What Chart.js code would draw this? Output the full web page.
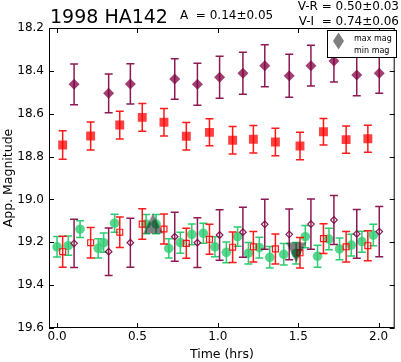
<!DOCTYPE html>
<html>
<head>
<meta charset="utf-8">
<script src="https://cdn.jsdelivr.net/npm/chart.js@4.4.0/dist/chart.umd.min.js"></script>
<style>
    html, body { margin: 0; padding: 0; background: #fff; }
</style>
</head>
<body>
<canvas id="lightCurve" width="401" height="362"></canvas>
<script>
// ----------- data ----------------------------------- //

// V band (green circles)
const timeV = [0.000, 0.070, 0.143, 0.256, 0.290, 0.358, 0.554, 0.616, 0.695, 0.767, 0.838, 0.910, 0.982, 1.053,
               1.123, 1.190, 1.258, 1.323, 1.410, 1.487, 1.544, 1.620, 1.691, 1.757, 1.830, 1.896, 1.967];
const magV = [19.221, 19.216, 19.139, 19.228, 19.202, 19.111, 19.115, 19.115, 19.228, 19.202, 19.163, 19.158, 19.221, 19.247,
              19.174, 19.251, 19.225, 19.270, 19.256, 19.251, 19.174, 19.265, 19.185, 19.231, 19.213, 19.197, 19.166];
const errV = [0.048, 0.045, 0.039, 0.045, 0.045, 0.042, 0.045, 0.045, 0.045, 0.049, 0.048, 0.047, 0.047, 0.048,
              0.045, 0.050, 0.048, 0.050, 0.050, 0.050, 0.052, 0.051, 0.050, 0.051, 0.051, 0.049, 0.050];

// R band (red squares) and R shifted by the colour (open squares)
const timeR = [0.035, 0.209, 0.390, 0.530, 0.665, 0.804, 0.948, 1.092, 1.221, 1.358, 1.511, 1.657, 1.798, 1.933];
const magR = [18.746, 18.704, 18.653, 18.617, 18.640, 18.705, 18.687, 18.724, 18.719, 18.732, 18.751, 18.684, 18.721, 18.717];
const errR = [0.066, 0.065, 0.065, 0.065, 0.064, 0.064, 0.063, 0.064, 0.064, 0.064, 0.064, 0.062, 0.064, 0.063];
const magRshift = [19.244, 19.202, 19.153, 19.115, 19.138, 19.205, 19.186, 19.223, 19.221, 19.231, 19.249, 19.183, 19.221, 19.216];
const errRshift = [0.072, 0.071, 0.071, 0.071, 0.070, 0.070, 0.070, 0.071, 0.071, 0.070, 0.071, 0.069, 0.071, 0.070];

// I band (purple diamonds) and I shifted by the colour (open diamonds)
const timeI = [0.106, 0.321, 0.456, 0.732, 0.873, 1.011, 1.156, 1.292, 1.444, 1.579, 1.722, 1.864, 2.004];
const magI = [18.463, 18.505, 18.461, 18.438, 18.463, 18.430, 18.411, 18.376, 18.423, 18.376, 18.354, 18.419, 18.411];
const errI = [0.095, 0.090, 0.094, 0.095, 0.098, 0.098, 0.098, 0.098, 0.100, 0.095, 0.098, 0.097, 0.094];
const magIshift = [19.205, 19.244, 19.202, 19.174, 19.202, 19.166, 19.153, 19.116, 19.163, 19.115, 19.096, 19.161, 19.150];
const errIshift = [0.113, 0.111, 0.114, 0.114, 0.116, 0.118, 0.117, 0.117, 0.118, 0.117, 0.114, 0.114, 0.117];

// max / min of the light curve
const maxTime = [0.597];
const maxMag = [19.112];
const minTime = [1.487];
const minMag = [19.248];

const xTicks = [0.0, 0.5, 1.0, 1.5, 2.0];
const yTicks = [18.2, 18.4, 18.6, 18.8, 19.0, 19.2, 19.4, 19.6];

const FONT = "'DejaVu Sans', sans-serif";

const toPoints = (xs, ys) => xs.map((x, i) => ({x: x, y: ys[i]}));

// triangle markers, matplotlib style (bbox centred on the point)
const makeTriangle = (up) => {
    const c = document.createElement('canvas');
    c.width = 21;
    c.height = 21;
    const g = c.getContext('2d');
    g.fillStyle = 'rgba(0,0,0,0.5)';
    g.beginPath();
    if (up) {
        g.moveTo(10.5, 0.5); g.lineTo(20.5, 20.5); g.lineTo(0.5, 20.5);
    } else {
        g.moveTo(0.5, 0.5); g.lineTo(20.5, 0.5); g.lineTo(10.5, 20.5);
    }
    g.closePath();
    g.fill();
    return c;
};

// ----------- error bars, drawn under each dataset ----------------- //
const errorBars = {
    id: 'errorBars',
    beforeDatasetDraw(chart, args) {
        const ds = chart.data.datasets[args.index];
        if (!ds.errors) return;
        const ctx = chart.ctx;
        const x = chart.scales.x, y = chart.scales.y;
        ctx.save();
        ctx.strokeStyle = ds.barColor;
        ctx.lineWidth = 1.5;
        ds.data.forEach((p, i) => {
            const px = x.getPixelForValue(p.x);
            const top = y.getPixelForValue(p.y - ds.errors[i]);
            const bot = y.getPixelForValue(p.y + ds.errors[i]);
            ctx.beginPath();
            ctx.moveTo(px, top); ctx.lineTo(px, bot);
            ctx.moveTo(px - 4, top); ctx.lineTo(px + 4, top);
            ctx.moveTo(px - 4, bot); ctx.lineTo(px + 4, bot);
            ctx.stroke();
        });
        ctx.restore();
    }
};

// ----------- frame, inward ticks, titles, legend ----------------- //
const decorations = {
    id: 'decorations',
    afterDraw(chart) {
        const ctx = chart.ctx;
        const a = chart.chartArea;
        const x = chart.scales.x, y = chart.scales.y;
        ctx.save();
        ctx.strokeStyle = '#000';
        ctx.lineWidth = 1;
        ctx.strokeRect(a.left + 0.5, a.top + 0.5, a.right - a.left - 1, a.bottom - a.top - 1);

        ctx.beginPath();
        xTicks.forEach(v => {
            const px = Math.round(x.getPixelForValue(v)) + 0.5;
            ctx.moveTo(px, a.bottom); ctx.lineTo(px, a.bottom - 5);
            ctx.moveTo(px, a.top); ctx.lineTo(px, a.top + 5);
        });
        yTicks.forEach(v => {
            const py = Math.round(y.getPixelForValue(v)) + 0.5;
            ctx.moveTo(a.left, py); ctx.lineTo(a.left + 5, py);
            ctx.moveTo(a.right, py); ctx.lineTo(a.right - 5, py);
        });
        ctx.stroke();

        ctx.fillStyle = '#000';
        ctx.textBaseline = 'alphabetic';

        ctx.font = '19px ' + FONT;
        ctx.textAlign = 'left';
        ctx.fillText('1998 HA142', 50, 23);

        ctx.font = '12px ' + FONT;
        ctx.fillText('A  = 0.14\u00b10.05', 180, 18.5);
        ctx.textAlign = 'right';
        ctx.fillText('V-R = 0.50\u00b10.03', 399, 10);
        ctx.fillText('V-I  = 0.74\u00b10.06', 399, 24.5);

        // axis titles
        ctx.textAlign = 'center';
        ctx.font = '12.5px ' + FONT;
        ctx.fillText('Time (hrs)', (a.left + a.right) / 2, 358);
        ctx.save();
        ctx.translate(12, (a.top + a.bottom) / 2);
        ctx.rotate(-Math.PI / 2);
        ctx.fillText('App. Magnitude', 0, 0);
        ctx.restore();

        // legend
        ctx.fillStyle = '#fff';
        ctx.fillRect(327.5, 30.5, 69, 27);
        ctx.strokeRect(327.5, 30.5, 69, 27);
        ctx.fillStyle = 'rgba(0,0,0,0.5)';
        ctx.beginPath();
        ctx.moveTo(338.5, 32.5); ctx.lineTo(344, 41); ctx.lineTo(333, 41);
        ctx.closePath();
        ctx.fill();
        ctx.beginPath();
        ctx.moveTo(333, 41); ctx.lineTo(344, 41); ctx.lineTo(338.5, 49.5);
        ctx.closePath();
        ctx.fill();
        ctx.fillStyle = '#000';
        ctx.textAlign = 'left';
        ctx.font = '8px ' + FONT;
        ctx.fillText('max mag', 354, 41);
        ctx.fillText('min mag', 354, 52.5);
        ctx.restore();
    }
};

// ----------- Light curve ----------------- //
const purple = 'rgba(128,0,64,';
const red = 'rgba(255,0,0,';
const green = 'rgba(46,204,113,';

new Chart(document.getElementById('lightCurve'), {
    type: 'scatter',
    data: {
        datasets: [
            {
                data: toPoints(maxTime, maxMag),
                pointStyle: makeTriangle(true),
            },
            {
                data: toPoints(minTime, minMag),
                pointStyle: makeTriangle(false),
            },
            {
                data: toPoints(timeI, magI),
                errors: errI,
                barColor: purple + '0.9)',
                pointStyle: 'rectRot',
                pointRadius: 5.5,
                backgroundColor: purple + '0.75)',
                borderWidth: 0,
            },
            {
                data: toPoints(timeR, magR),
                errors: errR,
                barColor: red + '0.9)',
                pointStyle: 'rect',
                pointRadius: 6.3,
                backgroundColor: red + '0.75)',
                borderWidth: 0,
            },
            {
                data: toPoints(timeI, magIshift),
                errors: errIshift,
                barColor: purple + '0.9)',
                pointStyle: 'rectRot',
                pointRadius: 3.3,
                backgroundColor: 'rgba(0,0,0,0)',
                borderColor: purple + '0.9)',
                borderWidth: 1.2,
            },
            {
                data: toPoints(timeR, magRshift),
                errors: errRshift,
                barColor: red + '0.9)',
                pointStyle: 'rect',
                pointRadius: 4.2,
                backgroundColor: 'rgba(0,0,0,0)',
                borderColor: red + '0.9)',
                borderWidth: 1.2,
            },
            {
                data: toPoints(timeV, magV),
                errors: errV,
                barColor: green + '1)',
                pointStyle: 'circle',
                pointRadius: 4.8,
                backgroundColor: green + '0.8)',
                borderWidth: 0,
            },
        ]
    },
    options: {
        responsive: false,
        animation: false,
        layout: {
            padding: {top: 28, right: 1, left: 0, bottom: 0}
        },
        scales: {
            x: {
                type: 'linear',
                min: -0.05,
                max: 2.1,
                afterBuildTicks: s => { s.ticks = xTicks.map(v => ({value: v})); },
                afterFit: s => { s.height = 34; },
                grid: {display: false, drawTicks: false},
                border: {display: false},
                ticks: {
                    padding: 2,
                    color: '#000',
                    font: {family: FONT, size: 12},
                    callback: v => v.toFixed(1),
                    maxRotation: 0,
                }
            },
            y: {
                type: 'linear',
                reverse: true,
                min: 18.2,
                max: 19.6,
                afterBuildTicks: s => { s.ticks = yTicks.map(v => ({value: v})); },
                afterFit: s => { s.width = 49; },
                grid: {display: false, drawTicks: false},
                border: {display: false},
                ticks: {
                    padding: 5,
                    color: '#000',
                    font: {family: FONT, size: 12},
                    callback: v => v.toFixed(1),
                }
            }
        },
        plugins: {
            legend: {display: false},
            tooltip: {enabled: false},
        }
    },
    plugins: [errorBars, decorations]
});
</script>
</body>
</html>
